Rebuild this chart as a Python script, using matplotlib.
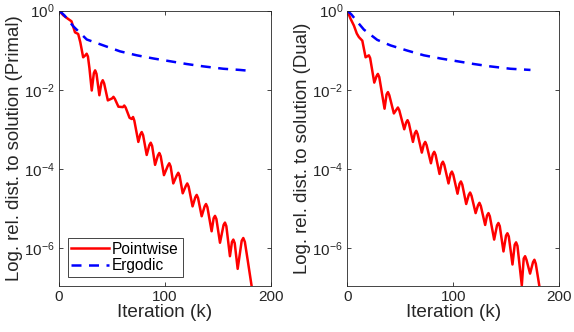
import numpy as np
import matplotlib
matplotlib.use("Agg")
import matplotlib.pyplot as plt
from matplotlib.ticker import FixedLocator, LogFormatterMathtext, NullLocator

plt.rcParams['font.family'] = ['Liberation Sans', 'DejaVu Sans']
plt.rcParams['mathtext.fontset'] = 'custom'
plt.rcParams['mathtext.rm'] = 'Liberation Sans'

# primal: pointwise (iteration, log10 of rel. distance)
primal_pw_k = [0, 4, 8.5, 11.7, 15, 18, 20, 22.7,
               24.8, 26, 27.2, 28.6, 30.8,
               32.8, 34, 35.3, 38,
               39.9, 41.2, 42.5, 46,
               50, 51.3, 52.6, 56,
               60.2, 61.5, 62.8, 66.5,
               68.5, 69.8, 71, 74.8,
               76.7, 78, 79.3, 82.7,
               85.2, 86.5, 87.8, 90.6,
               93.3, 94.6, 95.9, 99,
               102.7, 104, 105.3, 107.8,
               111.2, 112.5, 113.8, 116.7,
               119.7, 121, 122.3, 126,
               128.6, 129.9, 131.2, 134.6,
               137.4, 138.7, 140, 144,
               145.9, 147.2, 148.5, 151.9,
               155.3, 156.6, 157.9, 161.3,
               163.2, 164.5, 165.8, 168.6,
               172.4, 173.9, 175.4, 178, 181.8, 182.5]
primal_pw_log = [0, -0.12, -0.21, -0.27, -0.55, -0.59, -0.8, -1.18,
                 -1.13, -1.09, -1.16, -1.45, -2.02,
                 -1.58, -1.51, -1.6, -2.14,
                 -1.83, -1.76, -1.84, -2.27,
                 -2.22, -2.18, -2.23, -2.43,
                 -2.44, -2.40, -2.45, -2.71,
                 -2.74, -2.69, -2.78, -3.32,
                 -3.13, -3.07, -3.15, -3.65,
                 -3.40, -3.34, -3.42, -3.90,
                 -3.66, -3.60, -3.68, -4.16,
                 -3.92, -3.86, -3.94, -4.37,
                 -4.16, -4.10, -4.18, -4.62,
                 -4.43, -4.37, -4.45, -4.95,
                 -4.72, -4.66, -4.74, -5.20,
                 -4.95, -4.89, -4.97, -5.58,
                 -5.25, -5.19, -5.27, -5.87,
                 -5.42, -5.36, -5.45, -6.21,
                 -5.85, -5.79, -5.88, -6.53,
                 -5.82, -5.75, -5.85, -6.30, -6.97, -7.10]
# primal: ergodic
primal_erg_k = [0, 5, 13.5, 26.1, 41.8, 57.5, 73.3, 89, 104.7, 120.4, 136.2, 155, 170.8, 182.7]
primal_erg_log = [0, -0.12, -0.40, -0.73, -0.88, -1.03, -1.13, -1.21, -1.28, -1.35,
                  -1.41, -1.47, -1.50, -1.53]

# dual: pointwise
dual_pw_k = [0, 3, 6.3, 9, 11, 14.2, 17.3,
             19.2, 20.4, 21.6, 25.5,
             27.6, 28.9, 30.2, 35.2,
             37.1, 38.4, 39.7, 44,
             46.5, 47.8, 49.1, 53.8,
             55.6, 56.9, 58.2, 62,
             63.8, 65.1, 66.4, 70.4,
             72.3, 73.6, 74.9, 79,
             80.8, 82.1, 83.4, 87.1,
             89, 90.3, 91.6, 95.6,
             97.5, 98.8, 100.1, 104.1,
             106, 107.3, 108.6, 112.3,
             114.7, 116, 117.3, 121.2,
             123.5, 124.8, 126.1, 130.2,
             132, 133.3, 134.6, 138.7,
             141.4, 142.7, 144, 147.5,
             149.9, 151.2, 152.5, 156,
             158.1, 159.4, 160.7, 164.8,
             166.6, 167.9, 169.2, 172.6,
             175.4, 176.7, 178, 181.4, 182]
dual_pw_log = [0, -0.2, -0.38, -0.58, -0.67, -0.76, -1.18,
               -1.15, -1.13, -1.20, -1.82,
               -1.66, -1.60, -1.68, -2.48,
               -2.12, -2.06, -2.14, -2.60,
               -2.50, -2.45, -2.52, -3.00,
               -2.83, -2.77, -2.85, -3.32,
               -3.10, -3.04, -3.12, -3.59,
               -3.38, -3.32, -3.40, -3.86,
               -3.63, -3.57, -3.65, -4.13,
               -3.88, -3.82, -3.90, -4.37,
               -4.13, -4.07, -4.15, -4.63,
               -4.38, -4.32, -4.40, -4.89,
               -4.66, -4.60, -4.68, -5.12,
               -4.92, -4.86, -4.94, -5.42,
               -5.18, -5.12, -5.20, -5.79,
               -5.43, -5.37, -5.45, -6.09,
               -5.69, -5.63, -5.71, -6.42,
               -5.92, -5.86, -5.95, -6.95,
               -6.27, -6.21, -6.30, -6.65,
               -6.36, -6.30, -6.40, -6.97, -7.10]
# dual: ergodic
dual_erg_k = [0, 4, 9.4, 15.7, 28.3, 40.9, 56.6, 72.3, 88, 103.8, 119.5, 135, 154, 173]
dual_erg_log = [0, -0.1, -0.28, -0.48, -0.74, -0.88, -1.01, -1.13, -1.21, -1.28,
                -1.35, -1.41, -1.47, -1.50]

ylabels = ['Log. rel. dist. to solution (Primal)', 'Log. rel. dist. to solution (Dual)']

fig = plt.figure(figsize=(5.74, 3.32), dpi=100)
ax1 = fig.add_axes([0.103, 0.139, 0.369, 0.829])
ax2 = fig.add_axes([0.605, 0.139, 0.369, 0.829])

data = [(primal_pw_k, primal_pw_log, primal_erg_k, primal_erg_log),
        (dual_pw_k, dual_pw_log, dual_erg_k, dual_erg_log)]

gray = '#262626'
for ax, (pk, pl, ek, el), lab in zip([ax1, ax2], data, ylabels):
    ax.semilogy(pk, 10 ** np.array(pl), color='red', lw=1.8, label='Pointwise',
                solid_joinstyle='round')
    ax.semilogy(ek, 10 ** np.array(el), color='blue', lw=1.8, ls=(0, (4, 3)), label='Ergodic')
    ax.set_xlim(0, 200)
    ax.set_ylim(10 ** -6.96, 1)
    ax.set_xticks([0, 100, 200])
    ax.yaxis.set_major_locator(FixedLocator([1e-6, 1e-4, 1e-2, 1e0]))
    ax.yaxis.set_major_formatter(LogFormatterMathtext())
    ax.yaxis.set_minor_locator(NullLocator())
    ax.tick_params(direction='in', top=True, right=True, length=3, width=0.6,
                   colors=gray, labelsize=11, pad=3)
    for s in ax.spines.values():
        s.set_color(gray)
        s.set_linewidth(0.6)
    ax.set_xlabel('Iteration (k)', fontsize=13.6, color=gray, labelpad=0)
    ax.set_ylabel(lab, fontsize=13.4, color=gray, labelpad=1)

leg = ax1.legend(loc='lower left', bbox_to_anchor=(0.025, 0.02), fontsize=11.2,
                 fancybox=False, edgecolor=gray, framealpha=1, handlelength=2.4,
                 borderpad=0.25, labelspacing=0.1, handletextpad=0.2,
                 borderaxespad=0.2)
leg.get_frame().set_linewidth(0.6)

fig.savefig('out.png', dpi=100)
